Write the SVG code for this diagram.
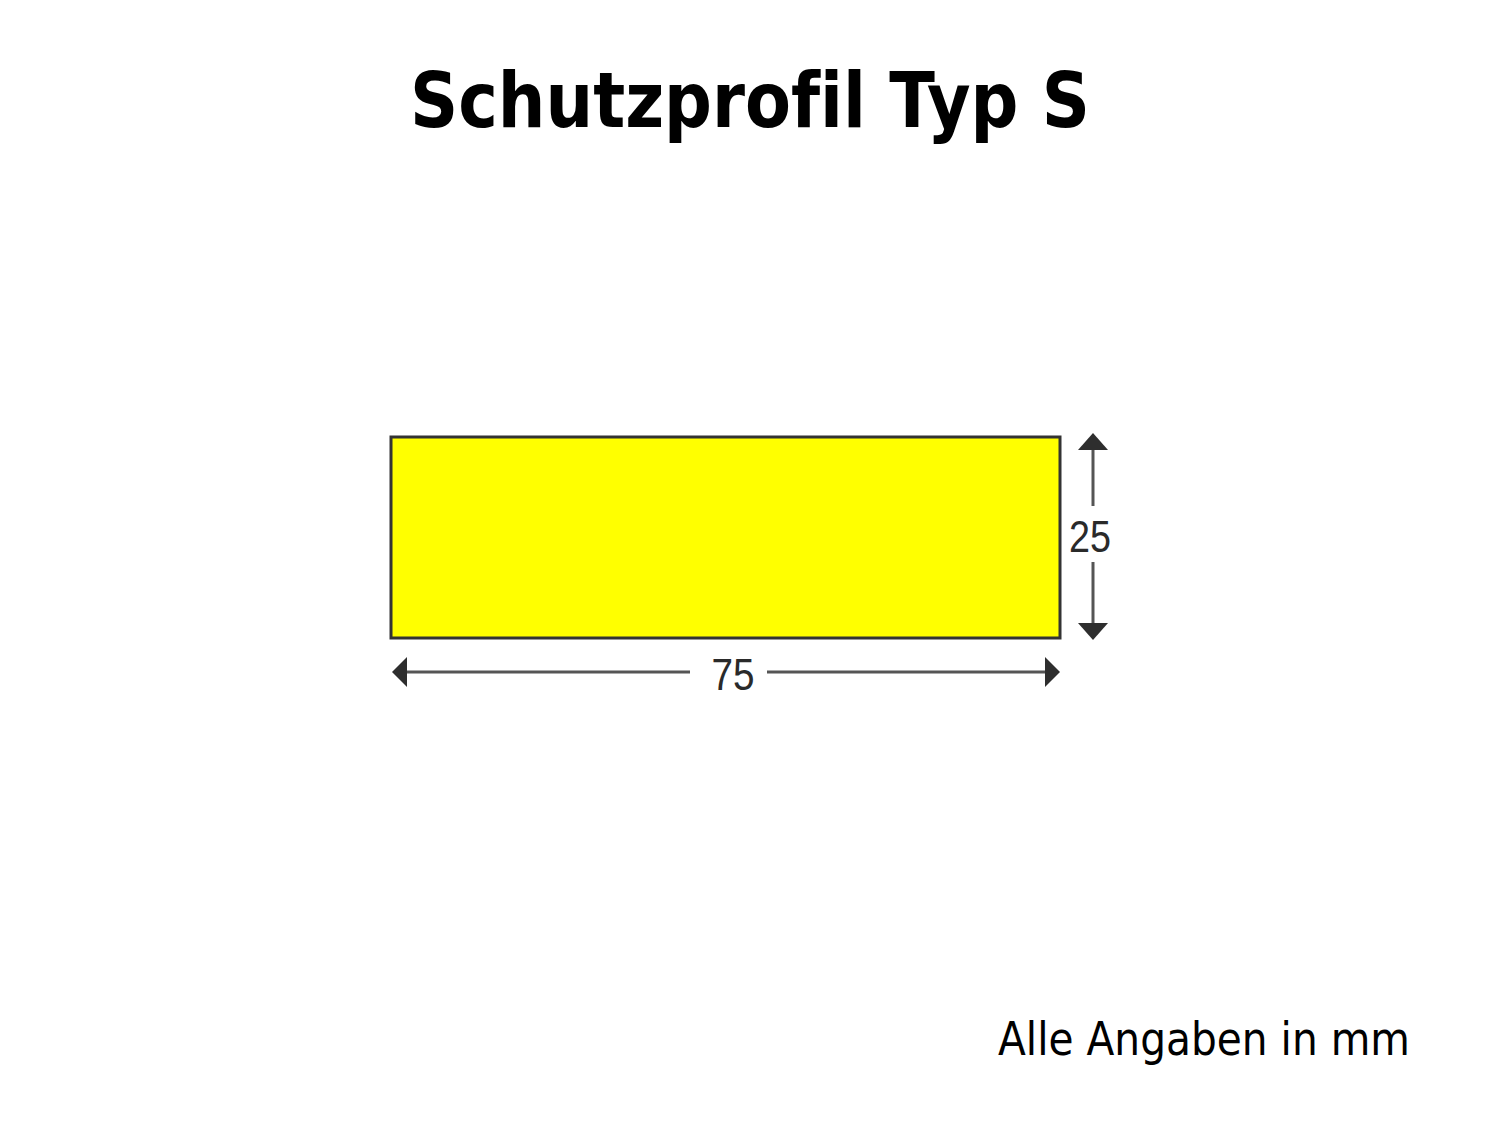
<svg xmlns="http://www.w3.org/2000/svg" width="1500" height="1125" viewBox="0 0 1500 1125">
<style>
.title{font-family:"DejaVu Sans","Liberation Sans",sans-serif;font-weight:bold;font-size:77px;fill:#000;font-variant-ligatures:none}
.note{font-family:"DejaVu Sans","Liberation Sans",sans-serif;font-size:46px;fill:#000}
.dim{font-family:"Liberation Sans",Arial,sans-serif;font-size:45px;fill:#2a2a2a}
.dl{stroke:#555;stroke-width:3;fill:none}
.ah{fill:#2e2e2e}
</style>
<rect width="1500" height="1125" fill="#fff"/>
<text class="title" x="750" y="127" text-anchor="middle" textLength="680" lengthAdjust="spacingAndGlyphs">Schutzprofil Typ S</text>
<g id="profile">
<rect x="391" y="437" width="669" height="201" fill="#ffff00" stroke="#333" stroke-width="3"/>
</g>
<g id="connectors">
<line class="dl" x1="405" y1="672" x2="690" y2="672"/>
<line class="dl" x1="767" y1="672" x2="1046" y2="672"/>
<polygon class="ah" points="392,672 407,657 407,687"/>
<polygon class="ah" points="1060,672 1045,657 1045,687"/>
<line class="dl" x1="1093" y1="448" x2="1093" y2="506"/>
<line class="dl" x1="1093" y1="562" x2="1093" y2="625"/>
<polygon class="ah" points="1093,433 1078,450 1108,450"/>
<polygon class="ah" points="1093,640 1078,623 1108,623"/>
</g>
<g id="labels">
<text class="dim" x="733" y="690" text-anchor="middle" textLength="43" lengthAdjust="spacingAndGlyphs">75</text>
<text class="dim" x="1090" y="552" text-anchor="middle" textLength="42" lengthAdjust="spacingAndGlyphs">25</text>
<text class="note" x="998" y="1055" textLength="412" lengthAdjust="spacingAndGlyphs">Alle Angaben in mm</text>
</g>
</svg>
